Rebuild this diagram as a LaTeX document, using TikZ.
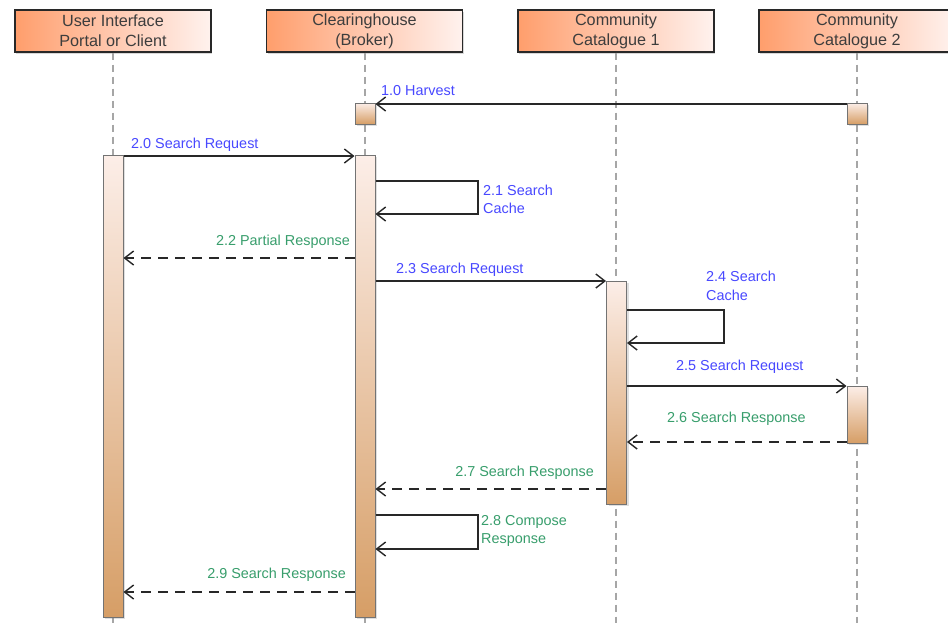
\documentclass[tikz,border=0pt]{standalone}
\usepackage{fontspec}
\setmainfont{Liberation Sans}
\usetikzlibrary{arrows.meta,shadows}
\definecolor{hdrL}{RGB}{255,158,108}
\definecolor{hdrM}{RGB}{255,200,175}
\definecolor{hdrR}{RGB}{255,242,238}
\definecolor{barT}{RGB}{252,238,232}
\definecolor{barB}{RGB}{214,158,102}
\definecolor{lblue}{RGB}{72,72,255}
\definecolor{lgreen}{RGB}{56,158,108}
\definecolor{ink}{RGB}{40,40,40}
\tikzset{
  hdr/.style={draw=ink, line width=1.4pt, left color=hdrL, right color=hdrR, middle color=hdrM,
    minimum width=196pt, minimum height=42pt, inner sep=0pt, align=center,
    font=\fontsize{16.2}{20}\selectfont, text=ink!90,
    drop shadow={opacity=0.3, shadow xshift=1pt, shadow yshift=-1.5pt}},
  bar/.style={draw=black!55, line width=1pt, top color=barT, bottom color=barB,
    minimum width=20pt, inner sep=0pt,
    drop shadow={opacity=0.25, shadow xshift=2pt, shadow yshift=-2pt}},
  life/.style={draw=black!35, line width=1.6pt, dash pattern=on 7pt off 5pt},
  msg/.style={draw=ink, line width=1.4pt, -{Straight Barb[length=9pt,width=14pt,line width=1.4pt]}},
  ret/.style={msg, dash pattern=on 10pt off 7pt},
  lb/.style={font=\fontsize{14.4}{18.5}\selectfont, text=lblue, inner sep=0pt, align=left},
  lg/.style={font=\fontsize{14.4}{18.5}\selectfont, text=lgreen, inner sep=0pt, align=left}
}
\begin{document}
\begin{tikzpicture}[x=1pt,y=-1pt]
\clip (0,0) rectangle (948,622);
\fill[white] (0,0) rectangle (948,622);
% headers
\node[hdr] (h1) at (113,31) {User Interface\\Portal or Client};
\node[hdr] (h2) at (364.5,31) {Clearinghouse\\(Broker)};
\node[hdr] (h3) at (616,31) {Community\\Catalogue 1};
\node[hdr] (h4) at (857,31) {Community\\Catalogue 2};
% lifeline ends
\coordinate (e1) at (113,625);
\coordinate (e2) at (365,625);
\coordinate (e3) at (616,625);
\coordinate (e4) at (857,625);
\draw[life] (h1.south) -- (e1);
\draw[life] (h2.south -| e2) -- (e2);
\draw[life] (h3.south) -- (e3);
\draw[life] (h4.south) -- (e4);
% activation bars
\node[bar, minimum height=21pt] (hv2) at (365,113.5) {};
\node[bar, minimum height=21pt] (hv4) at (857,113.5) {};
\node[bar, minimum height=462pt] (b1) at (113,386) {};
\node[bar, minimum height=462pt] (b2) at (365,386) {};
\node[bar, minimum height=223pt] (b3) at (616.5,392.5) {};
\node[bar, minimum height=57pt] (b4) at (857,414.5) {};
% message rows
\coordinate (y10) at (0,104);
\coordinate (y20) at (0,156);
\coordinate (y21a) at (0,181);
\coordinate (y21b) at (0,214);
\coordinate (r21) at (478,0);
\coordinate (y22) at (0,258);
\coordinate (y23) at (0,281);
\coordinate (y24a) at (0,310);
\coordinate (y24b) at (0,343);
\coordinate (r24) at (724,0);
\coordinate (y25) at (0,386);
\coordinate (y26) at (0,442);
\coordinate (y27) at (0,489);
\coordinate (y28a) at (0,515);
\coordinate (y28b) at (0,549);
\coordinate (r28) at (478,0);
\coordinate (y29) at (0,592);
% messages
\draw[msg] (hv4.west |- y10) -- (hv2.east |- y10);
\draw[msg] (b1.east |- y20) -- (b2.west |- y20);
\draw[msg] (b2.east |- y21a) -- (r21 |- y21a) -- (r21 |- y21b) -- (b2.east |- y21b);
\draw[ret] (b2.west |- y22) -- (b1.east |- y22);
\draw[msg] (b2.east |- y23) -- (b3.west |- y23);
\draw[msg] (b3.east |- y24a) -- (r24 |- y24a) -- (r24 |- y24b) -- (b3.east |- y24b);
\draw[msg] (b3.east |- y25) -- (b4.west |- y25);
\draw[ret] (b4.west |- y26) -- (b3.east |- y26);
\draw[ret] (b3.west |- y27) -- (b2.east |- y27);
\draw[msg] (b2.east |- y28a) -- (r28 |- y28a) -- (r28 |- y28b) -- (b2.east |- y28b);
\draw[ret] (b2.west |- y29) -- (b1.east |- y29);
% labels
\node[lb, anchor=west] (t10) at (381,91) {1.0 Harvest};
\node[lb, anchor=west] (t20) at (131,145) {2.0 Search Request};
\node[lb, anchor=west] (t21) at (483,199.5) {2.1 Search\\Cache};
\node[lg, anchor=east] (t22) at (350,242) {2.2 Partial Response};
\node[lb, anchor=west] (t23) at (396,270) {2.3 Search Request};
\node[lb, anchor=west] (t24) at (706,286) {2.4 Search\\Cache};
\node[lb, anchor=west] (t25) at (676,367) {2.5 Search Request};
\node[lg, anchor=west] (t26) at (667,419) {2.6 Search Response};
\node[lg, anchor=east] (t27) at (594,472.5) {2.7 Search Response};
\node[lg, anchor=west] (t28) at (481,531) {2.8 Compose\\Response};
\node[lg, anchor=east] (t29) at (346,575) {2.9 Search Response};
\end{tikzpicture}
\end{document}
